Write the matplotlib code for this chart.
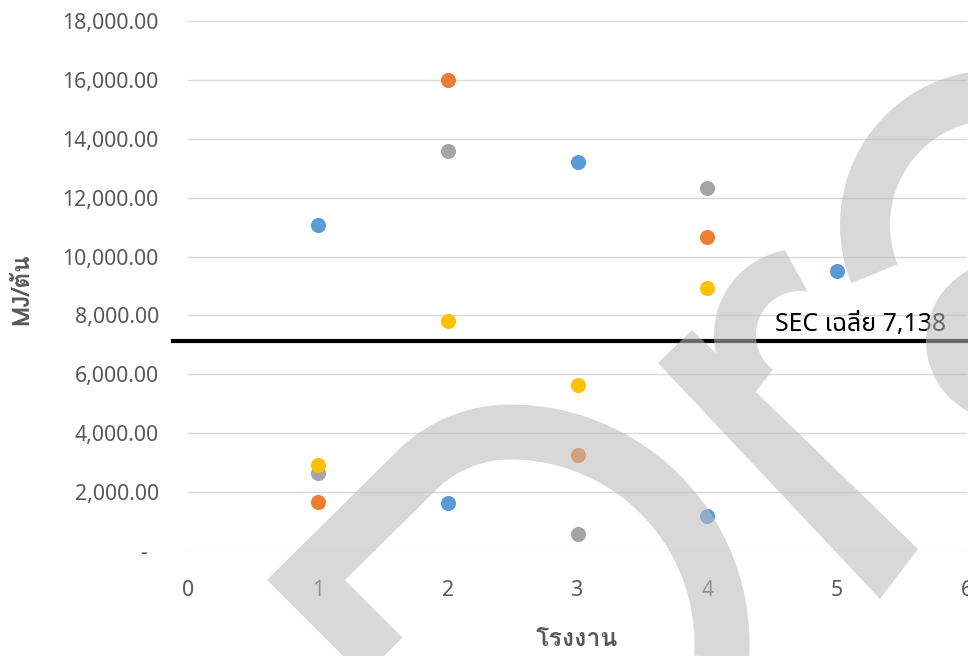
import numpy as np
import matplotlib
matplotlib.use("Agg")
import matplotlib.pyplot as plt
from matplotlib import font_manager as fm
from matplotlib.ft2font import FT2Font
from matplotlib.figure import Figure
from matplotlib.backends.backend_agg import FigureCanvasAgg
from matplotlib.patches import Polygon
from matplotlib.lines import Line2D
from matplotlib.ticker import FuncFormatter, MultipleLocator

# ---------------- data ----------------
plants_blue = [1, 2, 3, 4, 5]
sec_blue = [11070, 1640, 13210, 1190, 9510]
plants_orange = [1, 2, 3, 4]
sec_orange = [1660, 16000, 3250, 10670]
plants_gray = [1, 2, 3, 4]
sec_gray = [2650, 13590, 580, 12330]
plants_yellow = [1, 2, 3, 4]
sec_yellow = [2920, 7810, 5650, 8930]
sec_average = 7138

x_title = "โรงงาน"
y_title = "MJ/ตัน"
avg_label = "SEC เฉลี่ย"

# ---------------- fonts ----------------
def covers(path, text):
    try:
        cmap = FT2Font(path).get_charmap()
    except Exception:
        return False
    return all(ord(ch) in cmap for ch in text if not ch.isspace())


def weight_num(w):
    if isinstance(w, (int, float)):
        return w
    return fm.weight_dict.get(str(w).lower(), 400)


thai_sample = x_title + y_title + avg_label
thai_weights = {}
for f in fm.fontManager.ttflist:
    if covers(f.fname, thai_sample):
        thai_weights.setdefault(f.name, set()).add(weight_num(f.weight))

preferred = ["Noto Sans Thai", "Noto Sans Thai UI", "Noto Sans Thai Looped", "Loma",
             "Tlwg Typo", "Garuda", "Sarabun"]
ordered = [n for n in preferred if n in thai_weights] + sorted(
    n for n in thai_weights if n not in preferred)
with_bold = [n for n in ordered if max(thai_weights[n]) >= 600]
thai_main = ordered[0] if ordered else "DejaVu Sans"
thai_bold = with_bold[0] if with_bold else thai_main
thai_family = [thai_main, "Noto Sans", "DejaVu Sans"]
thai_bold_family = [thai_bold, "Noto Sans", "DejaVu Sans"]
tick_family = ["Noto Sans", "DejaVu Sans"]

W, H, DPI = 968, 656, 100
TEXT_GRAY = "#595959"


def fx(px):
    return px / W


def fy(py):
    return 1 - py / H


fig = plt.figure(figsize=(W / DPI, H / DPI), dpi=DPI, facecolor="white")
ax = fig.add_axes([fx(188), fy(551), fx(967) - fx(188), fy(21) - fy(551)])

ax.set_xlim(0, 6)
ax.set_ylim(0, 18000)
ax.xaxis.set_major_locator(MultipleLocator(1))
ax.yaxis.set_major_locator(MultipleLocator(2000))
ax.yaxis.set_major_formatter(FuncFormatter(lambda v, p: "-  " if v == 0 else f"{v:,.2f}"))
ax.grid(axis="y", color="#d9d9d9", linewidth=1.0)
ax.set_axisbelow(True)
for s in ax.spines.values():
    s.set_visible(False)
ax.tick_params(axis="both", length=0, labelcolor=TEXT_GRAY, labelsize=15.3)
ax.tick_params(axis="y", pad=21)
ax.tick_params(axis="x", pad=21)
for lab in ax.get_xticklabels() + ax.get_yticklabels():
    lab.set_family(tick_family)

ms = 118
ax.scatter(plants_blue, sec_blue, s=ms, color="#5B9BD5", linewidths=0, zorder=3)
ax.scatter(plants_orange, sec_orange, s=ms, color="#ED7D31", linewidths=0, zorder=3)
ax.scatter(plants_gray, sec_gray, s=ms, color="#A5A5A5", linewidths=0, zorder=3)
ax.scatter(plants_yellow, sec_yellow, s=ms, color="#FFC000", linewidths=0, zorder=3)

# average SEC line and its label
ax.axhline(sec_average, xmin=-0.019, xmax=1.01, color="black", linewidth=3.0,
           clip_on=False, zorder=2)
ax.annotate(f"{avg_label} {sec_average:,.0f}", xy=(4.52, sec_average),
            xytext=(0, 7), textcoords="offset points", va="baseline", ha="left",
            fontsize=17.9, color="black", family=thai_family, zorder=4)

fig.text(fx(577), fy(640), x_title, ha="center", va="center", fontsize=18,
         fontweight="bold", color=TEXT_GRAY, family=thai_bold_family)
fig.text(fx(22), fy(289), y_title, ha="center", va="center", rotation=90,
         fontsize=17.5, fontweight="bold", color=TEXT_GRAY, family=thai_bold_family)


# ---------------- watermark overlay ----------------
def ring(cx, cy, r_in, r_out, a0, a1, a0_in=None, n=120):
    a_out = np.radians(np.linspace(a0, a1, n))
    a_in = np.radians(np.linspace(a0 if a0_in is None else a0_in, a1, n))[::-1]
    outer = np.c_[cx + r_out * np.cos(a_out), cy - r_out * np.sin(a_out)]
    inner = np.c_[cx + r_in * np.cos(a_in), cy - r_in * np.sin(a_in)]
    return np.vstack([outer, inner])


def arc(cx, cy, r, a0, a1, n=80):
    a = np.radians(np.linspace(a0, a1, n))
    return np.c_[cx + r * np.cos(a), cy - r * np.sin(a)]


def watermark_mask():
    mf = Figure(figsize=(W / DPI, H / DPI), dpi=DPI, facecolor="white")
    FigureCanvasAgg(mf)
    m = mf.add_axes([0, 0, 1, 1])
    m.set_xlim(0, W)
    m.set_ylim(H, 0)
    m.axis("off")
    # chevron joined to an arch
    path = np.vstack([
        [[406, 680], [306, 580], [416, 471]],
        arc(510, 565, 133, 135, 90)[1:],
        arc(510, 644, 212, 90, -20)[1:],
    ])
    m.add_line(Line2D(path[:, 0], path[:, 1], color="black", linewidth=55 * 72 / DPI,
                      solid_joinstyle="miter", solid_capstyle="butt"))
    # diagonal stroke
    m.add_patch(Polygon([[658, 363], [692, 330], [918, 549], [880, 599]],
                        closed=True, color="black", linewidth=0))
    # hook above the diagonal stroke
    m.add_patch(Polygon(ring(800, 335, 44, 86, 100, 232, a0_in=80), closed=True,
                        color="black", linewidth=0))
    # upper right ring
    m.add_patch(Polygon(ring(995, 225, 105, 155, 60, 202), closed=True,
                        color="black", linewidth=0))
    # right edge disc
    m.add_patch(Polygon(ring(1006, 341, 0, 80, 0, 360), closed=True,
                        color="black", linewidth=0))
    mf.canvas.draw()
    buf = np.asarray(mf.canvas.buffer_rgba())[..., 0].astype(float)
    return 1.0 - buf / 255.0


cover = watermark_mask()
overlay = np.zeros((H, W, 4))
overlay[..., :3] = 188 / 255
overlay[..., 3] = 0.57 * cover
fig.figimage(overlay, xo=0, yo=0, origin="upper", zorder=10)

fig.savefig("out.png", dpi=DPI, facecolor="white")
